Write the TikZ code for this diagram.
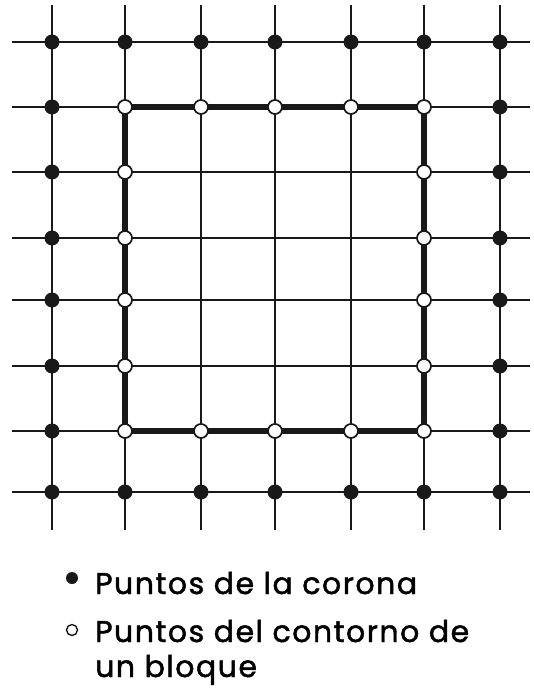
\documentclass[tikz,border=0pt]{standalone}
\usepackage{fontspec}
\setmainfont{Poppins}[FakeBold=1.6, LetterSpace=5]
\begin{document}
\begin{tikzpicture}[x=1pt,y=-1pt,
  gridline/.style={line width=2pt, draw=black!90},
  blockline/.style={line width=5.5pt, draw=black!90, line cap=rect},
  corona/.style={circle, fill=black!90, inner sep=0pt, minimum size=15pt},
  contorno/.style={circle, fill=white, draw=black!90, line width=1.7pt, inner sep=0pt, minimum size=14pt},
  legend/.style={anchor=base west, inner sep=0pt, font=\fontsize{30}{36}\selectfont},
  ]
\useasboundingbox (0,0) rectangle (534,690);
% grid coordinates
\foreach \x [count=\i from 0] in {52,125,201,275,351,424,500}{
  \foreach \y [count=\j from 0] in {42,107,172,238,300,366,431,492}{
    \coordinate (c-\i-\j) at (\x,\y);
  }
  \coordinate (t-\i) at (\x,5);
  \coordinate (b-\i) at (\x,530);
  \draw[gridline] (t-\i) -- (b-\i);
}
\foreach \y [count=\j from 0] in {42,107,172,238,300,366,431,492}{
  \coordinate (l-\j) at (12,\y);
  \coordinate (r-\j) at (530,\y);
  \draw[gridline] (l-\j) -- (r-\j);
}
% block contour
\draw[blockline] (c-1-1) -- (c-5-1) -- (c-5-6) -- (c-1-6) -- cycle;
% corona points (outer ring)
\foreach \i in {0,...,6}{
  \node[corona] (n-\i-0) at (c-\i-0) {};
  \node[corona] (n-\i-7) at (c-\i-7) {};
}
\foreach \j in {1,...,6}{
  \node[corona] (n-0-\j) at (c-0-\j) {};
  \node[corona] (n-6-\j) at (c-6-\j) {};
}
% contour points
\foreach \i in {1,...,5}{
  \node[contorno] (n-\i-1) at (c-\i-1) {};
  \node[contorno] (n-\i-6) at (c-\i-6) {};
}
\foreach \j in {2,...,5}{
  \node[contorno] (n-1-\j) at (c-1-\j) {};
  \node[contorno] (n-5-\j) at (c-5-\j) {};
}
% legend
\node[corona, minimum size=12pt] (lg1) at (72,578) {};
\node[legend] (tx1) at (95,594) {Puntos de la corona};
\node[contorno, minimum size=11pt, line width=1.4pt] (lg2) at (72,630) {};
\node[legend] (tx2) at (95,642) {Puntos del contorno de};
\node[legend] (tx3) at (95,677) {un bloque};
\end{tikzpicture}
\end{document}
